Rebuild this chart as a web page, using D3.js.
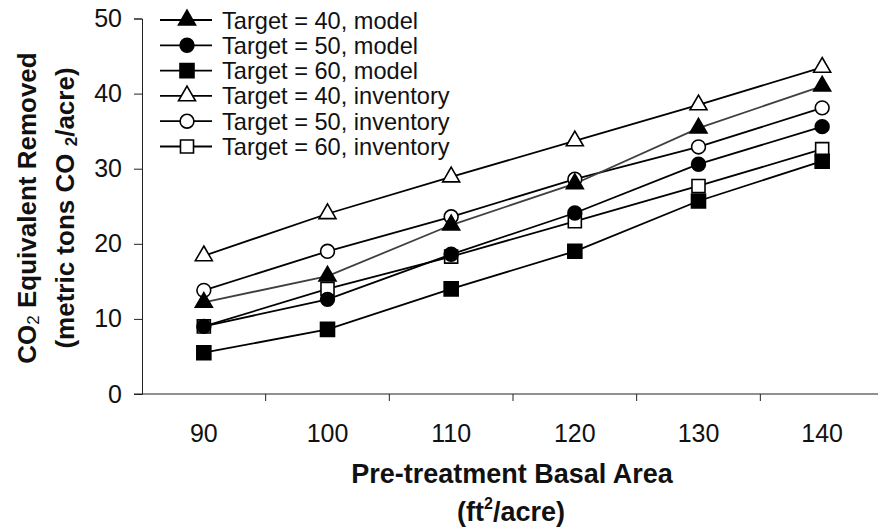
<!DOCTYPE html>
<html>
<head>
<meta charset="utf-8">
<script src="https://cdn.jsdelivr.net/npm/d3@7"></script>
<style>
  body { margin: 0; background: #fff; }
  svg { display: block; font-family: 'Liberation Sans', Arial, sans-serif; }
</style>
</head>
<body>
<div id="chart"></div>
<script>
// data
let basalArea = [90, 100, 110, 120, 130, 140]
let yTicks = [0, 10, 20, 30, 40, 50]

let model40 = [12.2, 15.7, 22.5, 28.0, 35.4, 41.0]
let model50 = [9.0, 12.6, 18.6, 24.1, 30.6, 35.6]
let model60 = [5.5, 8.6, 14.0, 19.0, 25.7, 31.0]
let inv40 = [18.4, 24.0, 28.9, 33.7, 38.5, 43.5]
let inv50 = [13.8, 19.0, 23.6, 28.6, 32.9, 38.1]
let inv60 = [9.0, 14.0, 18.3, 23.0, 27.7, 32.6]

let seriesLabels = [
  'Target = 40, model',
  'Target = 50, model',
  'Target = 60, model',
  'Target = 40, inventory',
  'Target = 50, inventory',
  'Target = 60, inventory'
]

let width = 878
let height = 531
let margin = { top: 18.5, left: 142, right: -6, bottom: 137 }

let series = [
  { name: seriesLabels[0], values: model40, shape: d3.symbolTriangle, size: 125, fill: '#000', line: '#404040', order: 1 },
  { name: seriesLabels[1], values: model50, shape: d3.symbolCircle, size: 150, fill: '#000', line: '#000', order: 1 },
  { name: seriesLabels[2], values: model60, shape: d3.symbolSquare, size: 196, fill: '#000', line: '#000', order: 1 },
  { name: seriesLabels[3], values: inv40, shape: d3.symbolTriangle, size: 125, fill: '#fff', line: '#000', order: 0 },
  { name: seriesLabels[4], values: inv50, shape: d3.symbolCircle, size: 150, fill: '#fff', line: '#000', order: 0 },
  { name: seriesLabels[5], values: inv60, shape: d3.symbolSquare, size: 170, fill: '#fff', line: '#000', order: 0 }
]

let svg = d3.select('#chart')
  .append('svg')
  .attr('width', width)
  .attr('height', height)

let x = d3.scaleBand()
  .domain(basalArea)
  .range([margin.left, width - margin.right])

let y = d3.scaleLinear()
  .domain([0, 50])
  .range([height - margin.bottom, margin.top])

// y axis
let yAxis = svg.append('g')
  .attr('transform', `translate(${margin.left},0)`)
  .call(d3.axisLeft(y).tickValues(yTicks).tickSize(8).tickPadding(12))
yAxis.select('.domain').attr('stroke', '#222')
yAxis.selectAll('.tick line').attr('stroke', '#222')
yAxis.selectAll('text')
  .attr('font-size', 25)
  .attr('fill', '#111')
  .attr('font-family', "'Liberation Sans', Arial, sans-serif")

// x axis: line, tick marks at band edges, labels at centres
let x0 = y(0)
svg.append('line')
  .attr('x1', margin.left - 8)
  .attr('x2', width)
  .attr('y1', x0)
  .attr('y2', x0)
  .attr('stroke', '#222')

svg.selectAll('.x-tick')
  .data(basalArea.slice(1))
  .enter()
  .append('line')
  .attr('class', 'x-tick')
  .attr('x1', d => x(d))
  .attr('x2', d => x(d))
  .attr('y1', x0)
  .attr('y2', x0 + 7)
  .attr('stroke', '#222')

svg.selectAll('.x-label')
  .data(basalArea)
  .enter()
  .append('text')
  .attr('class', 'x-label')
  .attr('x', d => x(d) + x.bandwidth() / 2)
  .attr('y', x0 + 48)
  .attr('text-anchor', 'middle')
  .attr('font-size', 25)
  .attr('fill', '#111')
  .text(d => d)

// lines
let cx = d => x(d) + x.bandwidth() / 2
let line = d3.line()
  .x((d, i) => cx(basalArea[i]))
  .y(d => y(d))

let drawn = series.slice().sort((a, b) => a.order - b.order)

svg.selectAll('.series-line')
  .data(drawn)
  .enter()
  .append('path')
  .attr('class', 'series-line')
  .attr('d', d => line(d.values))
  .attr('fill', 'none')
  .attr('stroke', d => d.line)
  .attr('stroke-width', 1.8)

// markers
svg.selectAll('.series-marks')
  .data(drawn)
  .enter()
  .append('g')
  .attr('class', 'series-marks')
  .each(function(s) {
    d3.select(this)
      .selectAll('path')
      .data(s.values)
      .enter()
      .append('path')
      .attr('d', d3.symbol().type(s.shape).size(s.size))
      .attr('transform', (d, i) => `translate(${cx(basalArea[i])},${y(d)})`)
      .attr('fill', s.fill)
      .attr('stroke', '#000')
      .attr('stroke-width', 1.6)
  })

// legend
let legend = svg.append('g')
  .attr('transform', 'translate(160,20)')

let rows = legend.selectAll('.legend-row')
  .data(series)
  .enter()
  .append('g')
  .attr('class', 'legend-row')
  .attr('transform', (d, i) => `translate(0,${i * 25.3})`)

rows.append('line')
  .attr('x1', 0)
  .attr('x2', 52)
  .attr('stroke', '#000')
  .attr('stroke-width', 1.8)

rows.append('path')
  .attr('d', d => d3.symbol().type(d.shape).size(d.size)())
  .attr('transform', 'translate(27,0)')
  .attr('fill', d => d.fill)
  .attr('stroke', '#000')
  .attr('stroke-width', 1.6)

rows.append('text')
  .attr('x', 62)
  .attr('y', 8.5)
  .attr('font-size', 23.6)
  .attr('fill', '#111')
  .text(d => d.name)

// axis titles
let xMid = (margin.left + width - margin.right) / 2
svg.append('text')
  .attr('x', xMid - 1)
  .attr('y', 483)
  .attr('text-anchor', 'middle')
  .attr('font-size', 27)
  .attr('font-weight', 'bold')
  .attr('fill', '#111')
  .text('Pre-treatment Basal Area')

let xt2 = svg.append('text')
  .attr('x', xMid - 2)
  .attr('y', 521)
  .attr('text-anchor', 'middle')
  .attr('font-size', 27)
  .attr('font-weight', 'bold')
  .attr('fill', '#111')
xt2.append('tspan').text('(ft')
xt2.append('tspan').attr('font-size', 16).attr('dy', -12).text('2')
xt2.append('tspan').attr('dy', 12).text('/acre)')

let yMid = 208
let yt1 = svg.append('text')
  .attr('transform', `translate(36,${yMid}) rotate(-90)`)
  .attr('text-anchor', 'middle')
  .attr('font-size', 26)
  .attr('font-weight', 'bold')
  .attr('fill', '#111')
yt1.append('tspan').text('CO')
yt1.append('tspan').attr('font-size', 17).attr('font-weight', 'normal').attr('dy', 3).text('2')
yt1.append('tspan').attr('dy', -3).text(' Equivalent Removed')

let yt2 = svg.append('text')
  .attr('transform', `translate(74,${yMid}) rotate(-90)`)
  .attr('text-anchor', 'middle')
  .attr('font-size', 26)
  .attr('font-weight', 'bold')
  .attr('fill', '#111')
yt2.append('tspan').text('(metric tons CO ')
yt2.append('tspan').attr('font-size', 17).attr('dy', 3).text('2')
yt2.append('tspan').attr('dy', -3).text('/acre)')
</script>
</body>
</html>
